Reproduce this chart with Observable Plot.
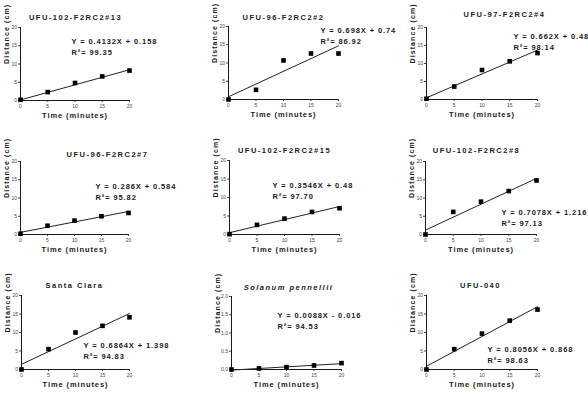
<!DOCTYPE html>
<html>
<head>
<meta charset="utf-8">
<script src="https://cdn.jsdelivr.net/npm/d3@7"></script>
<script src="https://cdn.jsdelivr.net/npm/@observablehq/plot@0.6"></script>
<style>
  html, body { margin: 0; padding: 0; background: #fff; }
  #chart { position: relative; width: 588px; height: 402px; overflow: hidden;
           font-family: "Liberation Sans", Arial, sans-serif; }
  #chart svg { position: absolute; overflow: visible; }
  g[aria-description="title"] text { letter-spacing: 1.5px; }
  g[aria-description="equation"] text { letter-spacing: 0.9px; }
  g[aria-description="xlabel"] text { letter-spacing: 0.9px; }
  g[aria-description="ylabel"] text { letter-spacing: 1.1px; }
</style>
</head>
<body>
<div id="chart"></div>
<script>
// Germination-tube growth per genotype: distance (cm) measured every 5 minutes
const titles = [
  "UFU-102-F2RC2#13", "UFU-96-F2RC2#2", "UFU-97-F2RC2#4",
  "UFU-96-F2RC2#7", "UFU-102-F2RC2#15", "UFU-102-F2RC2#8",
  "Santa Clara", "Solanum pennellii", "UFU-040"
];
const times = [0, 5, 10, 15, 20];
const distances = [
  [0.2, 2.3, 4.8, 6.6, 8.2],
  [0.0, 2.65, 10.7, 12.6, 12.6],
  [0.2, 3.6, 8.2, 10.6, 12.9],
  [0.2, 2.4, 3.8, 5.0, 5.9],
  [0.1, 2.6, 4.3, 6.1, 7.1],
  [0.0, 6.2, 9.0, 11.9, 14.8],
  [0.0, 5.5, 10.0, 11.8, 14.1],
  [0.0, 0.03, 0.065, 0.11, 0.175],
  [0.0, 5.5, 9.7, 13.2, 16.2]
];
// Fitted regression coefficients and R² (%)
const slopes = [0.4132, 0.698, 0.662, 0.286, 0.3546, 0.7078, 0.6864, 0.0088, 0.8056];
const intercepts = [0.158, 0.74, 0.48, 0.584, 0.48, 1.216, 1.398, -0.016, 0.868];
const rSquared = [99.35, 86.92, 98.14, 95.82, 97.70, 97.13, 94.83, 94.53, 98.63];
const xTicks = [0, 5, 10, 15, 20];
const yTicksCm = [0, 5, 10, 15, 20];
const yTicksSmall = [0, 0.5, 1.0, 1.5, 2.0];

// Page layout: plot frame [left, right, top, bottom], title centre, equation start
const layout = [
  {frame: [20, 129, 27, 100],  title: [75, 14],   eq: [71, 38]},
  {frame: [228, 338, 26, 99],  title: [283, 14],  eq: [320, 27]},
  {frame: [426, 537, 27, 99],  title: [504, 11],  eq: [513, 33]},
  {frame: [20, 128, 161, 234], title: [107, 151], eq: [95, 183]},
  {frame: [229, 339, 160, 234],title: [284, 147], eq: [272, 182]},
  {frame: [425, 536, 161, 234],title: [476, 147], eq: [501, 209]},
  {frame: [21, 129, 295, 369], title: [74, 282],  eq: [83, 342]},
  {frame: [231, 341, 296, 369],title: [288, 284], eq: [277, 312]},
  {frame: [426, 537, 295, 369],title: [480, 282], eq: [487, 346]}
];

const chart = document.getElementById("chart");
const ML = 24, MR = 8, MT = 24, MB = 24;
const ink = "#1a1a1a";
const font = "'Liberation Sans', Arial, sans-serif";

titles.forEach((title, i) => {
  const [x0, x1, yT, yB] = layout[i].frame;
  const small = i === 7;
  const yTicks = small ? yTicksSmall : yTicksCm;
  const points = times.map((t, j) => ({t, d: distances[i][j]}));
  const fit = [0, 20].map(t => ({t, d: slopes[i] * t + intercepts[i]}));
  const b = intercepts[i];
  const eq = `Y = ${slopes[i]}X ${b < 0 ? "-" : "+"} ${Math.abs(b)}`;
  const r2 = `R²= ${rSquared[i].toFixed(2)}`;
  const [tx, ty] = layout[i].title;
  const [ex, ey] = layout[i].eq;

  const svg = Plot.plot({
    width: x1 - x0 + ML + MR,
    height: yB - yT + MT + MB,
    marginLeft: ML, marginRight: MR, marginTop: MT, marginBottom: MB,
    x: {domain: [0, 20]},
    y: {domain: [yTicks[0], yTicks[yTicks.length - 1]]},
    style: {fontFamily: font, color: ink, background: "transparent", fontSize: "5px"},
    marks: [
      Plot.axisX({ticks: xTicks, tickSize: 2, tickPadding: 1.5, fontSize: 5, label: null, color: "#444"}),
      Plot.axisY({ticks: yTicks, tickSize: 2, tickPadding: 1.5, fontSize: 5, label: null, color: "#444",
                  tickFormat: small ? d3.format(".1f") : d3.format("d")}),
      Plot.ruleX([0], {stroke: ink, strokeWidth: 1}),
      Plot.ruleY([yTicks[0]], {stroke: ink, strokeWidth: 1}),
      Plot.line(fit, {x: "t", y: "d", stroke: "#222", strokeWidth: 1}),
      Plot.dot(points, {x: "t", y: "d", symbol: "square", fill: "#000", stroke: "none", r: 2.6}),
      Plot.text([title], {frameAnchor: "top-left", dx: tx - x0, dy: ty - yT, textAnchor: "middle",
                          fontSize: 7.5, fontWeight: "bold", fontStyle: small ? "italic" : "normal",
                          fill: ink, ariaDescription: "title"}),
      Plot.text([eq], {frameAnchor: "top-left", dx: ex - x0, dy: ey - yT, textAnchor: "start",
                       fontSize: 7.5, fontWeight: "bold", fill: ink, ariaDescription: "equation"}),
      Plot.text([r2], {frameAnchor: "top-left", dx: ex - x0, dy: ey - yT + 11, textAnchor: "start",
                       fontSize: 7.5, fontWeight: "bold", fill: ink, ariaDescription: "equation"}),
      Plot.text(["Time (minutes)"], {frameAnchor: "bottom", dy: 17, fontSize: 7.5, fontWeight: "bold",
                                     fill: ink, ariaDescription: "xlabel"}),
      Plot.text(["Distance (cm)"], {frameAnchor: "left", dx: -14, rotate: -90, fontSize: 7, fontWeight: "bold",
                                    fill: ink, ariaDescription: "ylabel"})
    ]
  });
  svg.style.left = `${x0 - ML}px`;
  svg.style.top = `${yT - MT}px`;
  chart.appendChild(svg);
});
</script>
</body>
</html>
